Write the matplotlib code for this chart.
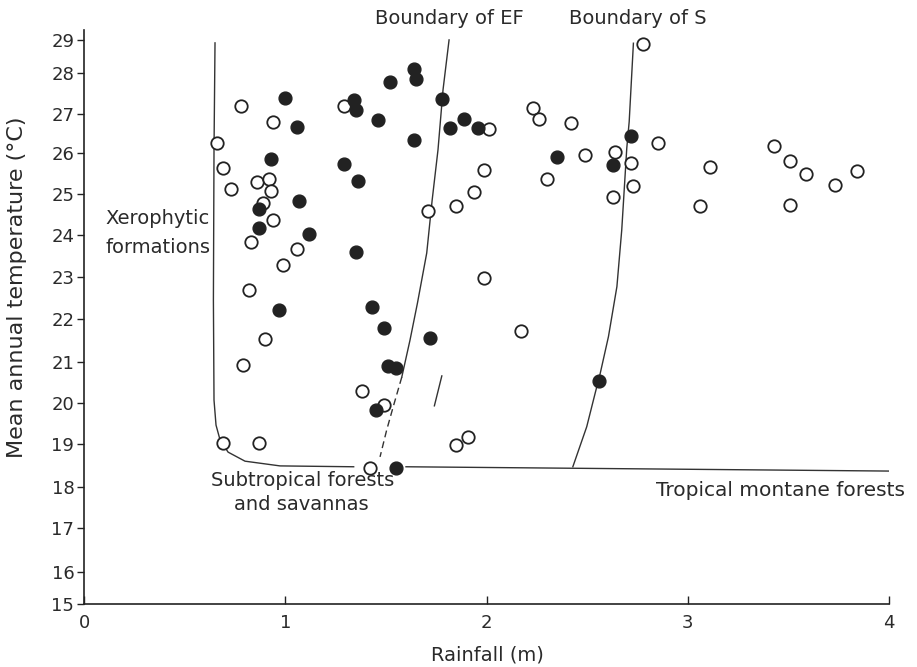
import numpy as np
import matplotlib
matplotlib.use('Agg')
import matplotlib.pyplot as plt

# --- data (rainfall in m, temperature in degC) ---
open_rain = [0.78, 1.29, 0.94, 0.66, 0.69, 0.86, 0.92, 0.73, 0.93, 0.89,
             0.94, 0.83, 1.06, 0.99, 0.82, 0.90, 0.79, 1.38, 1.49, 0.69,
             0.87, 1.42, 1.91, 1.85, 2.01, 1.99, 1.94, 1.85, 1.71, 1.99,
             2.17, 2.23, 2.26, 2.42, 2.49, 2.64, 2.72, 2.30, 2.73, 2.63,
             2.78, 2.85, 3.11, 3.06, 3.43, 3.51, 3.59, 3.73, 3.84, 3.51]
open_temp = [27.19, 27.19, 26.78, 26.25, 25.64, 25.29, 25.37, 25.11, 25.06, 24.78,
             24.37, 23.82, 23.67, 23.29, 22.69, 21.53, 20.93, 20.28, 19.95, 19.03,
             19.02, 18.43, 19.18, 18.98, 26.61, 25.59, 25.04, 24.71, 24.58, 22.98,
             21.73, 27.14, 26.87, 26.76, 25.95, 26.03, 25.76, 25.37, 25.20, 24.93,
             28.87, 26.25, 25.65, 24.70, 26.18, 25.80, 25.48, 25.22, 25.55, 24.73]

filled_rain = [1.00, 1.34, 1.35, 1.46, 1.06, 0.93, 1.29, 1.36, 1.07, 0.87,
               0.87, 1.12, 1.35, 0.97, 1.43, 1.49, 1.72, 1.51, 1.55, 1.45,
               1.55, 1.64, 1.65, 1.52, 1.78, 1.89, 1.82, 1.96, 1.64, 2.35,
               2.72, 2.63, 2.56]
filled_temp = [27.38, 27.34, 27.10, 26.85, 26.66, 25.86, 25.73, 25.31, 24.82, 24.64,
               24.17, 24.02, 23.59, 22.21, 22.29, 21.80, 21.56, 20.90, 20.86, 19.82,
               18.43, 28.12, 27.85, 27.77, 27.37, 26.86, 26.65, 26.63, 26.34, 25.91,
               26.44, 25.71, 20.54]

# boundary curves
xero_rain = [0.651, 0.646, 0.643, 0.646, 0.656, 0.676, 0.716, 0.800, 0.974, 1.34]
xero_temp = [28.91, 26.08, 22.45, 20.07, 19.46, 19.10, 18.81, 18.60, 18.49, 18.47]
base_rain = [1.60, 4.00]
base_temp = [18.47, 18.37]

ef_rain = [1.814, 1.784, 1.759, 1.730, 1.703, 1.657, 1.620, 1.579]
ef_temp = [29.00, 27.59, 26.08, 24.85, 23.57, 22.38, 21.51, 20.63]
ef_low_rain = [1.579, 1.536, 1.504, 1.471]
ef_low_temp = [20.63, 19.90, 19.34, 18.70]
ef_frag_rain = [1.778, 1.741]
ef_frag_temp = [20.66, 19.93]

s_rain = [2.730, 2.709, 2.697, 2.672, 2.648, 2.606, 2.565, 2.540, 2.498, 2.429]
s_temp = [28.90, 26.80, 26.12, 24.12, 22.77, 21.59, 20.72, 20.24, 19.42, 18.47]

y_ticks = list(range(15, 30))
x_ticks = [0, 1, 2, 3, 4]

# the printed temperature axis is not evenly spaced; calibrate the scale to it
scale_t = [14] + y_ticks + [30]
scale_h = [-32, 0, 32, 76, 117, 160, 201, 242, 285, 327, 369, 410, 451, 490, 531, 564, 597]


def fwd(y):
    return np.interp(y, scale_t, scale_h)


def inv(h):
    return np.interp(h, scale_h, scale_t)


plt.rcParams['font.family'] = ['DejaVu Sans']
ink = '#222222'
txt = '#2a2a2a'

fig = plt.figure(figsize=(9.17, 6.67), dpi=100)
ax = fig.add_axes([84 / 917, 63 / 667, 805 / 917, 574 / 667])
ax.set_yscale('function', functions=(fwd, inv))
ax.set_xlim(0, 4)
ax.set_ylim(15, 29.3)

lw = 1.0
ax.plot(xero_rain, xero_temp, color='#333333', lw=lw, zorder=1)
ax.plot(base_rain, base_temp, color='#333333', lw=lw, zorder=1)
ax.plot(ef_rain, ef_temp, color='#333333', lw=lw, zorder=1)
ax.plot(ef_low_rain, ef_low_temp, color='#333333', lw=lw, ls=(0, (5, 3)), zorder=1)
ax.plot(ef_frag_rain, ef_frag_temp, color='#333333', lw=lw, zorder=1)
ax.plot(s_rain, s_temp, color='#333333', lw=lw, zorder=1)

ax.scatter(open_rain, open_temp, s=80, facecolor='white', edgecolor=ink,
           linewidth=1.3, zorder=3, clip_on=False)
ax.scatter(filled_rain, filled_temp, s=85, facecolor=ink, edgecolor=ink,
           linewidth=1.0, zorder=3, clip_on=False)

for side in ['top', 'right']:
    ax.spines[side].set_visible(False)
for side in ['left', 'bottom']:
    ax.spines[side].set_linewidth(1.2)
    ax.spines[side].set_color(ink)

ax.set_yticks(y_ticks)
ax.set_yticklabels([str(t) for t in y_ticks])
ax.set_xticks(x_ticks)
ax.set_xticklabels([str(t) for t in x_ticks])
ax.yaxis.set_minor_locator(matplotlib.ticker.NullLocator())
ax.tick_params(axis='y', direction='out', length=5, width=1, labelsize=13,
               colors=ink, labelcolor=txt, pad=2)
ax.tick_params(axis='x', direction='in', length=6, width=1, labelsize=13,
               colors=ink, labelcolor=txt, pad=7)

ax.set_xlabel('Rainfall (m)', fontsize=14, color=txt)
ax.xaxis.set_label_coords(0.5006, -0.072)
ax.set_ylabel('Mean annual temperature (\u00b0C)', fontsize=16, color=txt)
ax.yaxis.set_label_coords(-0.071, 0.552)

fs = 14
fig.text(449 / 917, 1 - 18 / 667, 'Boundary of EF', fontsize=fs, color=txt,
         ha='center', va='center')
fig.text(638 / 917, 1 - 18 / 667, 'Boundary of S', fontsize=fs, color=txt,
         ha='center', va='center')
fig.text(105 / 917, 1 - 218 / 667, 'Xerophytic', fontsize=fs, color=txt,
         ha='left', va='center')
fig.text(105 / 917, 1 - 248 / 667, 'formations', fontsize=fs, color=txt,
         ha='left', va='center')
fig.text(211 / 917, 1 - 481 / 667, 'Subtropical forests', fontsize=fs, color=txt,
         ha='left', va='center')
fig.text(234 / 917, 1 - 505 / 667, 'and savannas', fontsize=fs, color=txt,
         ha='left', va='center')
fig.text(656 / 917, 1 - 490 / 667, 'Tropical montane forests', fontsize=14.5,
         color=txt, ha='left', va='center')

fig.savefig('out.png', dpi=100, facecolor='white')
